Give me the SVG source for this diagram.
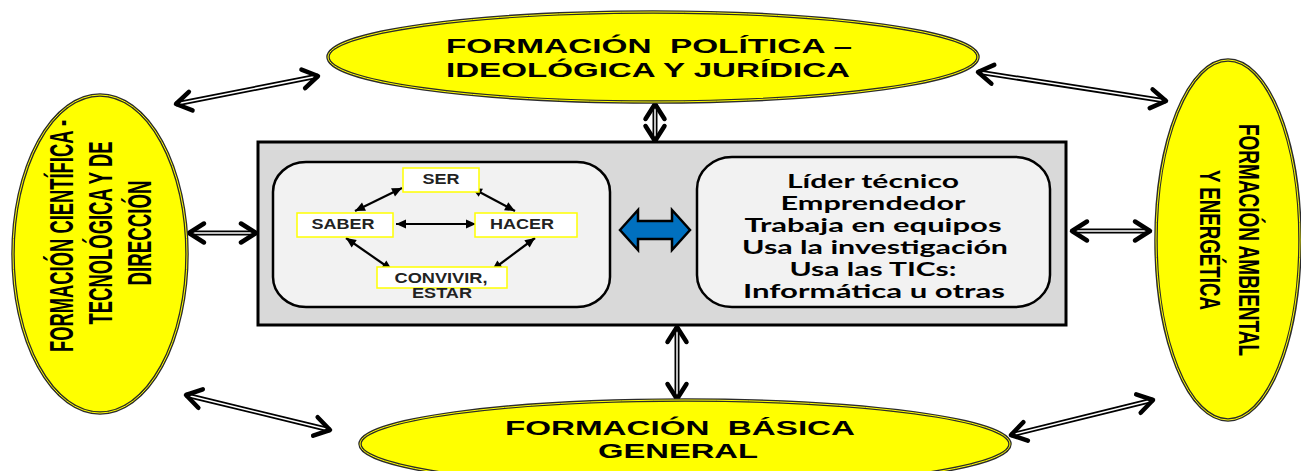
<svg xmlns="http://www.w3.org/2000/svg" width="1301" height="471" viewBox="0 0 1301 471">
<style>
.ell{fill:#ffff00;stroke:#2a2a2a;stroke-width:3.5}
.ellin{fill:none;stroke:#ffff00;stroke-width:1}
.big{font-family:"Liberation Sans",Arial,sans-serif;font-weight:bold;fill:#000}
.sm{font-family:"Liberation Sans",Arial,sans-serif;font-weight:bold;font-size:14px;fill:#222;text-anchor:middle}
.rt{font-family:Lato,"Open Sans",sans-serif;font-weight:bold;font-size:18px;fill:#000;text-anchor:middle}
.box{fill:#fff;stroke:#ffff00;stroke-width:1.5}
.shaft{fill:none;stroke:#000;stroke-width:5}
.inner{fill:none;stroke:#fff;stroke-width:1.5;marker-start:url(#chev);marker-end:url(#chev)}
.thin{fill:none;stroke:#000;stroke-width:2.2;marker-start:url(#tri);marker-end:url(#tri)}
</style>
<defs>
<marker id="chev" viewBox="-20 -13 24 26" refX="0" refY="0" markerWidth="24" markerHeight="26" orient="auto-start-reverse" markerUnits="userSpaceOnUse">
<path d="M-15,-9.5 L0,0 L-15,9.5" fill="none" stroke="#000" stroke-width="4.5" stroke-linecap="round" stroke-linejoin="round"/>
</marker>
<marker id="tri" viewBox="-11 -6 12 12" refX="0" refY="0" markerWidth="12" markerHeight="12" orient="auto-start-reverse" markerUnits="userSpaceOnUse">
<path d="M0,0 L-10,-4.5 L-10,4.5 Z" fill="#000"/>
</marker>
</defs>

<g id="connectors">
<path class="shaft" d="M176,104 L318,76"/><path class="inner" d="M176,104 L318,76"/>
<path class="shaft" d="M978,72 L1166,101"/><path class="inner" d="M978,72 L1166,101"/>
<path class="shaft" d="M186,395 L330,430"/><path class="inner" d="M186,395 L330,430"/>
<path class="shaft" d="M1011,435 L1153,400"/><path class="inner" d="M1011,435 L1153,400"/>
<path class="shaft" d="M655,104 L655,141"/><path class="inner" d="M655,104 L655,141"/>
<path class="shaft" d="M677,327 L677,399"/><path class="inner" d="M677,327 L677,399"/>
<path class="shaft" d="M189,233 L256,233"/><path class="inner" d="M189,233 L256,233"/>
<path class="shaft" d="M1072,231 L1150,231"/><path class="inner" d="M1072,231 L1150,231"/>
</g>

<g id="node-top">
<ellipse class="ell" cx="653" cy="57" rx="325" ry="45"/>
<ellipse class="ellin" cx="653" cy="57" rx="325" ry="45"/>
<text class="big" font-size="21" x="649" y="53" text-anchor="middle" textLength="406" lengthAdjust="spacingAndGlyphs" xml:space="preserve">FORMACIÓN  POLÍTICA –</text>
<text class="big" font-size="21" x="648" y="77" text-anchor="middle" textLength="404" lengthAdjust="spacingAndGlyphs">IDEOLÓGICA Y JURÍDICA</text>
</g>

<g id="node-bottom">
<ellipse class="ell" cx="685" cy="444" rx="325" ry="44"/>
<ellipse class="ellin" cx="685" cy="444" rx="325" ry="44"/>
<text class="big" font-size="21" x="680" y="435" text-anchor="middle" textLength="350" lengthAdjust="spacingAndGlyphs" xml:space="preserve">FORMACIÓN  BÁSICA</text>
<text class="big" font-size="21" x="678" y="458" text-anchor="middle" textLength="160" lengthAdjust="spacingAndGlyphs">GENERAL</text>
</g>

<g id="node-left">
<ellipse class="ell" cx="100" cy="254" rx="87" ry="159"/>
<ellipse class="ellin" cx="100" cy="254" rx="87" ry="159"/>
<text class="big" font-size="20.5" transform="translate(73,236) rotate(-90) scale(1,1.6)" text-anchor="middle" textLength="232" lengthAdjust="spacingAndGlyphs">FORMACIÓN CIENTÍFICA -</text>
<text class="big" font-size="20.5" transform="translate(112,233) rotate(-90) scale(1,1.6)" text-anchor="middle" textLength="183" lengthAdjust="spacingAndGlyphs">TECNOLÓGICA Y DE</text>
<text class="big" font-size="20.5" transform="translate(151,233) rotate(-90) scale(1,1.6)" text-anchor="middle" textLength="105" lengthAdjust="spacingAndGlyphs">DIRECCIÓN</text>
</g>

<g id="node-right">
<ellipse class="ell" cx="1228" cy="240" rx="72" ry="180"/>
<ellipse class="ellin" cx="1228" cy="240" rx="72" ry="180"/>
<text class="big" font-size="19.5" transform="translate(1239,240) rotate(90) scale(1,1.55)" text-anchor="middle" textLength="232" lengthAdjust="spacingAndGlyphs">FORMACIÓN AMBIENTAL</text>
<text class="big" font-size="19.5" transform="translate(1200,240) rotate(90) scale(1,1.55)" text-anchor="middle" textLength="140" lengthAdjust="spacingAndGlyphs">Y ENERGÉTICA</text>
</g>

<g id="node-center">
<rect x="258" y="142" width="808" height="183" fill="#d9d9d9" stroke="#000" stroke-width="3"/>
<polygon points="620,230 638,210 638,221 672,221 672,210 690,230 672,250 672,239 638,239 638,250" fill="#0070c0" stroke="#000" stroke-width="2.5" stroke-linejoin="miter"/>
</g>

<g id="node-values">
<rect x="273" y="162" width="337" height="145" rx="33" ry="30" fill="#f2f2f2" stroke="#000" stroke-width="2.5"/>
<path class="thin" d="M402,188 L355,211"/>
<path class="thin" d="M472,188 L515,211"/>
<path class="thin" d="M396,224 L476,224"/>
<path class="thin" d="M346,238 L392,270"/>
<path class="thin" d="M535,238 L492,270"/>
<g id="node-ser"><rect class="box" x="403" y="168" width="76" height="24"/><text class="sm" x="441" y="184" textLength="37" lengthAdjust="spacingAndGlyphs">SER</text></g>
<g id="node-saber"><rect class="box" x="297" y="213" width="96" height="24"/><text class="sm" x="343" y="229" textLength="63" lengthAdjust="spacingAndGlyphs">SABER</text></g>
<g id="node-hacer"><rect class="box" x="475" y="213" width="102" height="24"/><text class="sm" x="522" y="229" textLength="64" lengthAdjust="spacingAndGlyphs">HACER</text></g>
<g id="node-convivir"><rect class="box" x="377" y="267" width="130" height="21"/><text class="sm" x="441" y="283" textLength="93" lengthAdjust="spacingAndGlyphs">CONVIVIR,</text><text class="sm" x="442" y="298" textLength="60" lengthAdjust="spacingAndGlyphs">ESTAR</text></g>
</g>

<g id="node-profile">
<rect x="697" y="157" width="353" height="150" rx="35" ry="32" fill="#f2f2f2" stroke="#000" stroke-width="2.5"/>
<text class="rt" x="873" y="188" textLength="172" lengthAdjust="spacingAndGlyphs">Líder técnico</text>
<text class="rt" x="873" y="210" textLength="185" lengthAdjust="spacingAndGlyphs">Emprendedor</text>
<text class="rt" x="873" y="232" textLength="257" lengthAdjust="spacingAndGlyphs">Trabaja en equipos</text>
<text class="rt" x="875" y="254" textLength="266" lengthAdjust="spacingAndGlyphs">Usa la investigación</text>
<text class="rt" x="873" y="276" textLength="167" lengthAdjust="spacingAndGlyphs">Usa las TICs:</text>
<text class="rt" x="874" y="298" textLength="262" lengthAdjust="spacingAndGlyphs">Informática u otras</text>
</g>
</svg>
